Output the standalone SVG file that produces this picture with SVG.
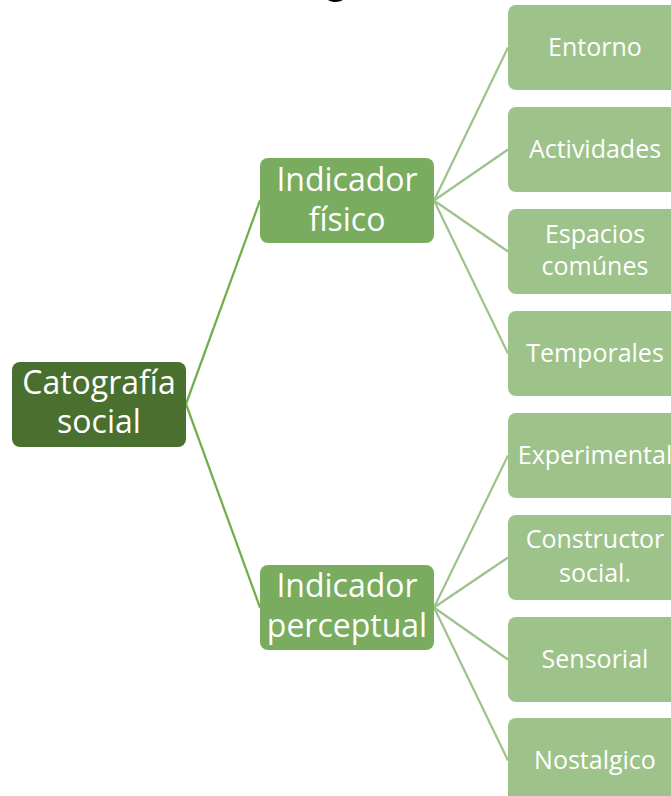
<svg xmlns="http://www.w3.org/2000/svg" width="671" height="796" viewBox="0 0 671 796">
<style>
.t{font-family:"Open Sans","Noto Sans",sans-serif;fill:#ffffff;text-anchor:middle}
.big{font-size:32px}
.sm{font-size:25px}
.l0{fill:#4a7030}
.l1{fill:#79ac5f}
.l2{fill:#9dc28a}
.c0{stroke:#70ad47;stroke-width:2.2;fill:none}
.c1{stroke:#9dc28a;stroke-width:2.2;fill:none}
</style>
<rect width="671" height="796" fill="#ffffff"/>
<text x="336" y="-7" font-family="Open Sans, sans-serif" font-size="36" fill="#000000" text-anchor="middle">g</text>
<g id="connectors">
<line class="c0" x1="186" y1="404" x2="260" y2="200.5"/>
<line class="c0" x1="186" y1="404" x2="260" y2="607.5"/>
<line class="c1" x1="434" y1="200.5" x2="508" y2="47.5"/>
<line class="c1" x1="434" y1="200.5" x2="508" y2="149.5"/>
<line class="c1" x1="434" y1="200.5" x2="508" y2="251.5"/>
<line class="c1" x1="434" y1="200.5" x2="508" y2="353.5"/>
<line class="c1" x1="434" y1="607.5" x2="508" y2="455.5"/>
<line class="c1" x1="434" y1="607.5" x2="508" y2="557.5"/>
<line class="c1" x1="434" y1="607.5" x2="508" y2="659.5"/>
<line class="c1" x1="434" y1="607.5" x2="508" y2="760.5"/>
</g>
<g id="root">
<rect class="l0" x="12" y="362" width="174" height="85" rx="8"/>
<text class="t big" x="99" y="394">Catografía</text>
<text class="t big" x="99" y="433">social</text>
</g>
<g id="fisico">
<rect class="l1" x="260" y="158" width="174" height="85" rx="8"/>
<text class="t big" x="347" y="191">Indicador</text>
<text class="t big" x="347" y="231">físico</text>
</g>
<g id="perceptual">
<rect class="l1" x="260" y="565" width="174" height="85" rx="8"/>
<text class="t big" x="347" y="597">Indicador</text>
<text class="t big" x="347" y="637">perceptual</text>
</g>
<g id="entorno">
<rect class="l2" x="508" y="5" width="174" height="85" rx="8"/>
<text class="t sm" x="595" y="56">Entorno</text>
</g>
<g id="actividades">
<rect class="l2" x="508" y="107" width="174" height="85" rx="8"/>
<text class="t sm" x="595" y="158">Actividades</text>
</g>
<g id="espacios">
<rect class="l2" x="508" y="209" width="174" height="85" rx="8"/>
<text class="t sm" x="595" y="243">Espacios</text>
<text class="t sm" x="595" y="275">comúnes</text>
</g>
<g id="temporales">
<rect class="l2" x="508" y="311" width="174" height="85" rx="8"/>
<text class="t sm" x="595" y="362">Temporales</text>
</g>
<g id="experimental">
<rect class="l2" x="508" y="413" width="174" height="85" rx="8"/>
<text class="t sm" x="595" y="464">Experimental</text>
</g>
<g id="constructor">
<rect class="l2" x="508" y="515" width="174" height="85" rx="8"/>
<text class="t sm" x="595" y="548">Constructor</text>
<text class="t sm" x="595" y="582">social.</text>
</g>
<g id="sensorial">
<rect class="l2" x="508" y="617" width="174" height="85" rx="8"/>
<text class="t sm" x="595" y="668">Sensorial</text>
</g>
<g id="nostalgico">
<rect class="l2" x="508" y="718" width="174" height="85" rx="8"/>
<text class="t sm" x="595" y="769">Nostalgico</text>
</g>
</svg>
